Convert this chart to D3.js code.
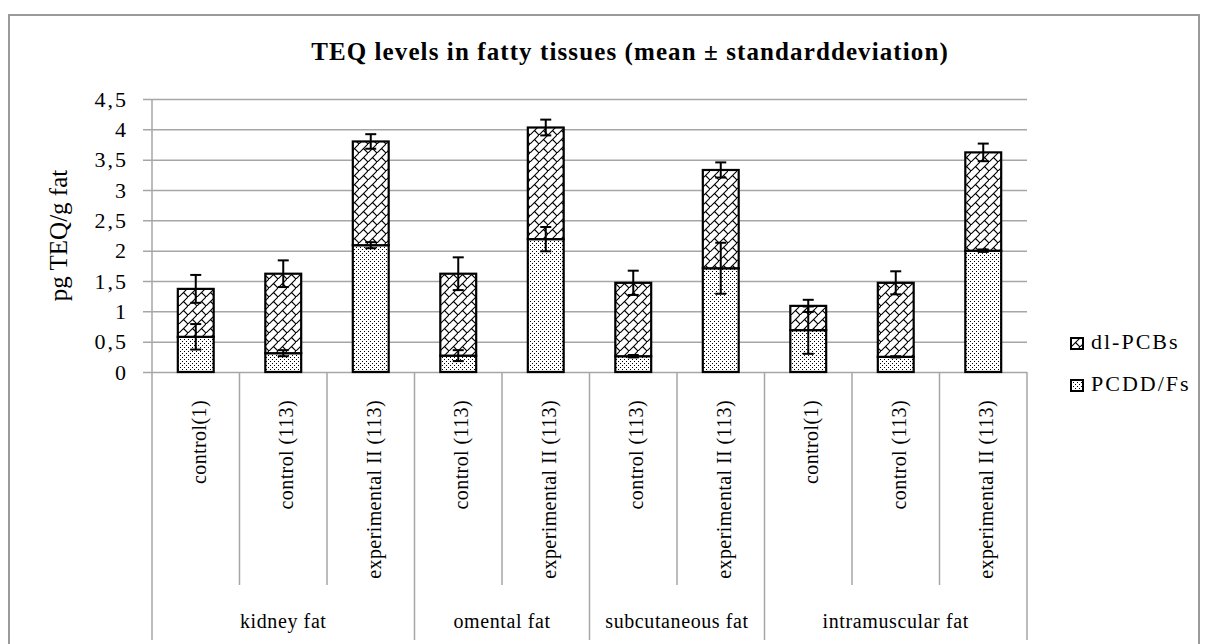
<!DOCTYPE html>
<html>
<head>
<meta charset="utf-8">
<script src="https://cdn.jsdelivr.net/npm/d3@7"></script>
<style>
  body { margin: 0; background: #fff; }
  svg { display: block; }
  svg text { font-family: 'Liberation Serif', 'Times New Roman', serif; fill: #000; }
</style>
</head>
<body>
<div id="chart"></div>
<script>
// data
const groups = ['kidney fat', 'omental fat', 'subcutaneous fat', 'intramuscular fat'];
const groupSizes = [3, 2, 2, 3];
const categories = [
  'control(1)', 'control (113)', 'experimental II (113)',
  'control (113)', 'experimental II (113)',
  'control (113)', 'experimental II (113)',
  'control(1)', 'control (113)', 'experimental II (113)'
];
const pcdd = [0.58, 0.31, 2.09, 0.27, 2.19, 0.26, 1.71, 0.69, 0.25, 2.00];
const pcddSd = [0.21, 0.05, 0.05, 0.09, 0.20, 0.02, 0.42, 0.39, 0.01, 0.02];
const totals = [1.37, 1.62, 3.80, 1.62, 4.03, 1.47, 3.33, 1.09, 1.47, 3.62];
const pcbSd = [0.23, 0.22, 0.12, 0.27, 0.13, 0.20, 0.125, 0.10, 0.19, 0.145];
const yTicks = [0, 0.5, 1, 1.5, 2, 2.5, 3, 3.5, 4, 4.5];
const seriesNames = ['dl-PCBs', 'PCDD/Fs'];

const width = 1208, height = 644;
const margin = { top: 99, left: 152, right: 181, bottom: 272 };
const innerW = width - margin.left - margin.right;
const innerH = height - margin.top - margin.bottom;

const svg = d3.select('#chart').append('svg')
  .attr('width', width)
  .attr('height', height);

// fill patterns
const defs = svg.append('defs');
const brick = defs.append('pattern')
  .attr('id', 'brick')
  .attr('patternUnits', 'userSpaceOnUse')
  .attr('width', 9).attr('height', 9);
brick.append('rect').attr('width', 9).attr('height', 9).attr('fill', '#fff');
brick.append('path')
  .attr('d', 'M-1,10 L10,-1 M4.5,4.5 L9,9 M-4.5,4.5 L0,9')
  .attr('stroke', '#000').attr('stroke-width', 1.1).attr('fill', 'none');

const dots = defs.append('pattern')
  .attr('id', 'dots')
  .attr('patternUnits', 'userSpaceOnUse')
  .attr('width', 4).attr('height', 4);
dots.append('rect').attr('width', 4).attr('height', 4).attr('fill', '#fff');
dots.append('rect').attr('x', 0).attr('y', 0).attr('width', 1).attr('height', 1).attr('fill', '#000');
dots.append('rect').attr('x', 2).attr('y', 2).attr('width', 1).attr('height', 1).attr('fill', '#000');

// outer frame
svg.append('rect')
  .attr('x', 9).attr('y', 15)
  .attr('width', 1190).attr('height', 640)
  .attr('fill', 'none').attr('stroke', '#9a9a9a').attr('stroke-width', 2);

svg.append('text')
  .attr('x', 630).attr('y', 60)
  .attr('text-anchor', 'middle')
  .attr('font-size', 25).attr('font-weight', 'bold')
  .attr('letter-spacing', 1.1)
  .text('TEQ levels in fatty tissues (mean \u00b1 standarddeviation)');

const idx = d3.range(categories.length);
const x = d3.scaleBand().domain(idx).range([0, innerW]).padding(0);
const y = d3.scaleLinear().domain([0, 4.5]).range([innerH, 0]);
const barW = x.bandwidth() * 0.41;

const g = svg.append('g').attr('transform', `translate(${margin.left},${margin.top})`);

// grid + y axis
const yAxis = g.append('g')
  .call(d3.axisLeft(y).tickValues(yTicks).tickSize(-innerW).tickPadding(24)
    .tickFormat(d => String(d).replace('.', ',')));
yAxis.attr('font-family', null).attr('font-size', null);
yAxis.select('.domain').remove();
yAxis.selectAll('.tick line').attr('x1', -9).attr('stroke', '#a6a6a6').attr('stroke-width', 1.5);
yAxis.selectAll('.tick text')
  .attr('font-size', 22).attr('letter-spacing', 2).attr('fill', '#000');

// category separators below the axis
const bounds = d3.range(categories.length + 1);
const groupEdges = d3.cumsum([0].concat(groupSizes));
g.selectAll('.sep')
  .data(bounds)
  .join('line')
  .attr('x1', i => i * x.step()).attr('x2', i => i * x.step())
  .attr('y1', i => i === 0 ? 0 : innerH)
  .attr('y2', i => groupEdges.includes(i) ? innerH + 268 : innerH + 213)
  .attr('stroke', '#a6a6a6').attr('stroke-width', 1.5);

// stacked bars
g.selectAll('.pcdd')
  .data(idx)
  .join('rect')
  .attr('x', i => x(i) + (x.bandwidth() - barW) / 2)
  .attr('y', i => y(pcdd[i]))
  .attr('width', barW)
  .attr('height', i => y(0) - y(pcdd[i]))
  .attr('fill', 'url(#dots)').attr('stroke', '#000').attr('stroke-width', 2.2);

g.selectAll('.pcb')
  .data(idx)
  .join('rect')
  .attr('x', i => x(i) + (x.bandwidth() - barW) / 2)
  .attr('y', i => y(totals[i]))
  .attr('width', barW)
  .attr('height', i => y(pcdd[i]) - y(totals[i]))
  .attr('fill', 'url(#brick)').attr('stroke', '#000').attr('stroke-width', 2.2);

// error bars
const errs = idx.map(i => ({ i, v: pcdd[i], sd: pcddSd[i] }))
  .concat(idx.map(i => ({ i, v: totals[i], sd: pcbSd[i] })));
const cap = 5.5;
const eb = g.selectAll('.err').data(errs).join('g')
  .attr('transform', d => `translate(${x(d.i) + x.bandwidth() / 2},0)`);
eb.append('line')
  .attr('y1', d => y(d.v - d.sd)).attr('y2', d => y(d.v + d.sd))
  .attr('stroke', '#000').attr('stroke-width', 2);
eb.append('line')
  .attr('x1', -cap).attr('x2', cap)
  .attr('y1', d => y(d.v + d.sd)).attr('y2', d => y(d.v + d.sd))
  .attr('stroke', '#000').attr('stroke-width', 2);
eb.append('line')
  .attr('x1', -cap).attr('x2', cap)
  .attr('y1', d => y(d.v - d.sd)).attr('y2', d => y(d.v - d.sd))
  .attr('stroke', '#000').attr('stroke-width', 2);

// category labels (rotated)
g.selectAll('.cat')
  .data(idx)
  .join('text')
  .attr('transform', i => `translate(${x(i) + x.bandwidth() / 2 + 10},${innerH + 28}) rotate(-90)`)
  .attr('text-anchor', 'end')
  .attr('font-size', 20)
  .attr('letter-spacing', 0.4)
  .text(i => categories[i]);

// group labels
g.selectAll('.grp')
  .data(groups)
  .join('text')
  .attr('x', (d, k) => (groupEdges[k] + groupEdges[k + 1]) / 2 * x.step())
  .attr('y', innerH + 256)
  .attr('text-anchor', 'middle')
  .attr('font-size', 20)
  .attr('letter-spacing', 0.6)
  .text(d => d);

// y axis title
svg.append('text')
  .attr('transform', `translate(67,${margin.top + innerH / 2}) rotate(-90)`)
  .attr('text-anchor', 'middle')
  .attr('font-size', 25)
  .text('pg TEQ/g fat');

// legend
const legend = svg.append('g').attr('transform', 'translate(1071,0)');
const legendItems = [
  { name: seriesNames[0], fill: 'url(#brick)', y: 338 },
  { name: seriesNames[1], fill: 'url(#dots)', y: 380 }
];
const li = legend.selectAll('g').data(legendItems).join('g')
  .attr('transform', d => `translate(0,${d.y})`);
li.append('rect')
  .attr('width', 12).attr('height', 11)
  .attr('fill', d => d.fill).attr('stroke', '#000').attr('stroke-width', 2);
li.append('text')
  .attr('x', 20).attr('y', 11)
  .attr('font-size', 22)
  .attr('letter-spacing', 2)
  .text(d => d.name);
</script>
</body>
</html>
